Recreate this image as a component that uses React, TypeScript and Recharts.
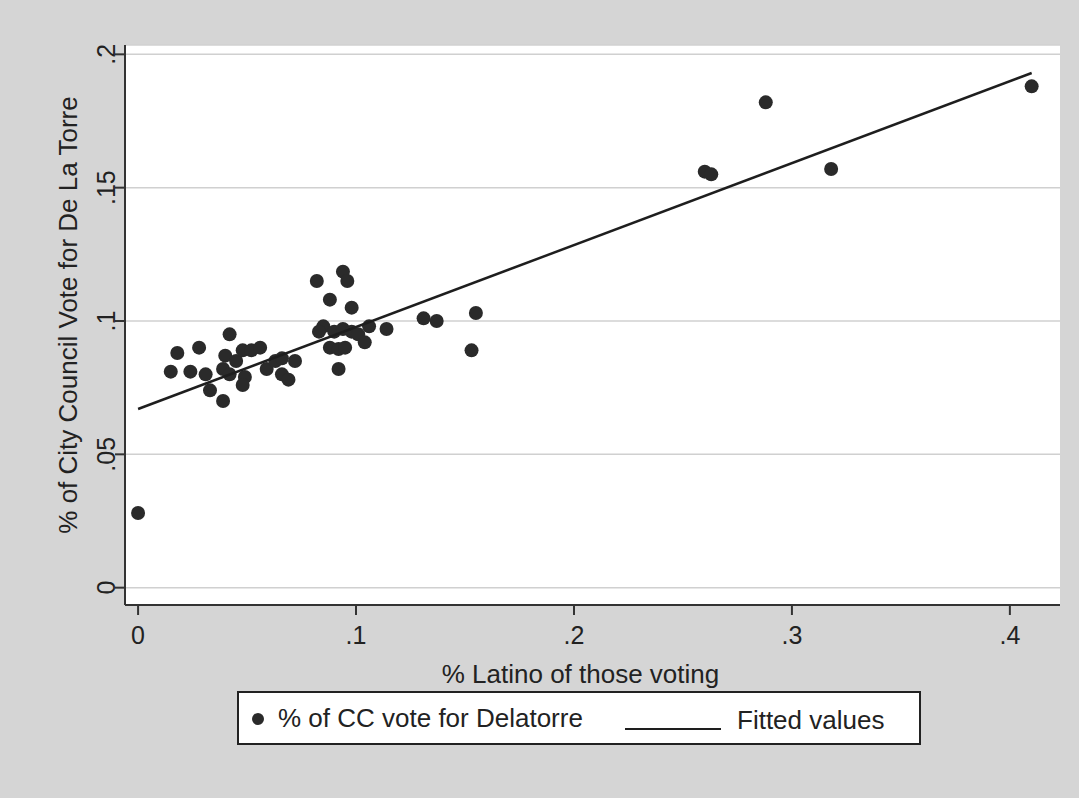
import { ScatterChart, Scatter, XAxis, YAxis, CartesianGrid } from 'recharts';

// % Latino of those voting (x) and % CC vote for Delatorre (y), one entry per precinct
const latinoShare = [
  0.0, 0.015, 0.018, 0.024, 0.028, 0.031, 0.033, 0.039, 0.042, 0.04, 0.039, 0.042, 0.045,
  0.048, 0.052, 0.056, 0.049, 0.048, 0.059, 0.063, 0.066, 0.072, 0.066, 0.069, 0.082, 0.094,
  0.096, 0.088, 0.098, 0.085, 0.083, 0.09, 0.094, 0.098, 0.101, 0.106, 0.114, 0.104, 0.088,
  0.092, 0.095, 0.092, 0.131, 0.137, 0.155, 0.153, 0.26, 0.263, 0.288, 0.318, 0.41,
];
const ccVote = [
  0.028, 0.081, 0.088, 0.081, 0.09, 0.08, 0.074, 0.07, 0.095, 0.087, 0.082, 0.08, 0.085,
  0.089, 0.089, 0.09, 0.079, 0.076, 0.082, 0.085, 0.086, 0.085, 0.08, 0.078, 0.115, 0.1185,
  0.115, 0.108, 0.105, 0.098, 0.096, 0.096, 0.097, 0.096, 0.095, 0.098, 0.097, 0.092, 0.09,
  0.0895, 0.09, 0.082, 0.101, 0.1, 0.103, 0.089, 0.156, 0.155, 0.182, 0.157, 0.188,
];

// fitted line end points
const fitX = [0.0, 0.41];
const fitY = [0.067, 0.193];

const xTicks = [0, 0.1, 0.2, 0.3, 0.4];
const yTicks = [0, 0.05, 0.1, 0.15, 0.2];

const points = latinoShare.map((x, i) => ({ x, y: ccVote[i] }));
const fitted = fitX.map((x, i) => ({ x, y: fitY[i] }));

const FONT = 'Liberation Sans, Arial, sans-serif';
const INK = '#222';

const fmt = (v: number) => (v === 0 ? '0' : String(v).replace(/^0/, ''));

function YTick({ x, y, payload }: any) {
  return (
    <text
      x={x}
      y={y}
      transform={`rotate(-90 ${x} ${y})`}
      textAnchor="middle"
      fontSize={25}
      fontFamily={FONT}
      fill={INK}
    >
      {fmt(payload.value)}
    </text>
  );
}

function YTitle({ viewBox }: any) {
  const cx = 68;
  const cy = viewBox.y + viewBox.height / 2 - 10;
  return (
    <text
      x={cx}
      y={cy}
      transform={`rotate(-90 ${cx} ${cy})`}
      textAnchor="middle"
      dominantBaseline="central"
      fontSize={26}
      fontFamily={FONT}
      fill={INK}
    >
      % of City Council Vote for De La Torre
    </text>
  );
}

const Dot = (p: any) => <circle cx={p.cx} cy={p.cy} r={7} fill="#2a2a2a" />;

export default function App() {
  return (
    <div
      style={{
        position: 'absolute',
        left: 0,
        top: 0,
        width: 1079,
        height: 798,
        background: '#d5d5d5',
        fontFamily: FONT,
      }}
    >
      <ScatterChart width={1079} height={798} margin={{ top: 45, right: 19, left: 0, bottom: 0 }}>
        <CartesianGrid vertical={false} stroke="#d0d0d0" strokeWidth={1.5} fill="#fff" fillOpacity={1} />
        <XAxis
          type="number"
          dataKey="x"
          domain={[-0.006, 0.423]}
          ticks={xTicks}
          tickFormatter={fmt}
          allowDataOverflow
          height={193}
          tickSize={10}
          tickMargin={11}
          axisLine={{ stroke: '#333', strokeWidth: 2 }}
          tickLine={{ stroke: '#333', strokeWidth: 2 }}
          tick={{ fontSize: 25, fill: INK, fontFamily: FONT }}
          label={{
            value: '% Latino of those voting',
            position: 'insideTop',
            offset: 60,
            dx: -12,
            fontSize: 26,
            fill: INK,
            fontFamily: FONT,
          }}
        />
        <YAxis
          type="number"
          dataKey="y"
          domain={[-0.0065, 0.2035]}
          ticks={yTicks}
          allowDataOverflow
          width={125}
          tickSize={10}
          tickMargin={0}
          axisLine={{ stroke: '#333', strokeWidth: 2 }}
          tickLine={{ stroke: '#333', strokeWidth: 2 }}
          tick={<YTick />}
          label={{ content: <YTitle /> }}
        />
        <Scatter data={points} shape={Dot} isAnimationActive={false} />
        <Scatter
          data={fitted}
          line={{ stroke: '#1e1e1e', strokeWidth: 2.5 }}
          shape={() => <g />}
          isAnimationActive={false}
        />
      </ScatterChart>
      <div
        style={{
          position: 'absolute',
          left: 237,
          top: 691,
          width: 684,
          height: 54,
          boxSizing: 'border-box',
          background: '#fff',
          border: '2px solid #222',
          fontSize: 26,
          color: INK,
        }}
      >
        <span
          style={{
            position: 'absolute',
            left: 13,
            top: 20,
            width: 12,
            height: 12,
            borderRadius: '50%',
            background: '#2a2a2a',
          }}
        />
        <span style={{ position: 'absolute', left: 39, top: 10, whiteSpace: 'nowrap' }}>
          % of CC vote for Delatorre
        </span>
        <span
          style={{
            position: 'absolute',
            left: 386,
            top: 35,
            width: 96,
            height: 2,
            background: '#1e1e1e',
          }}
        />
        <span style={{ position: 'absolute', left: 498, top: 12, whiteSpace: 'nowrap' }}>
          Fitted values
        </span>
      </div>
    </div>
  );
}
